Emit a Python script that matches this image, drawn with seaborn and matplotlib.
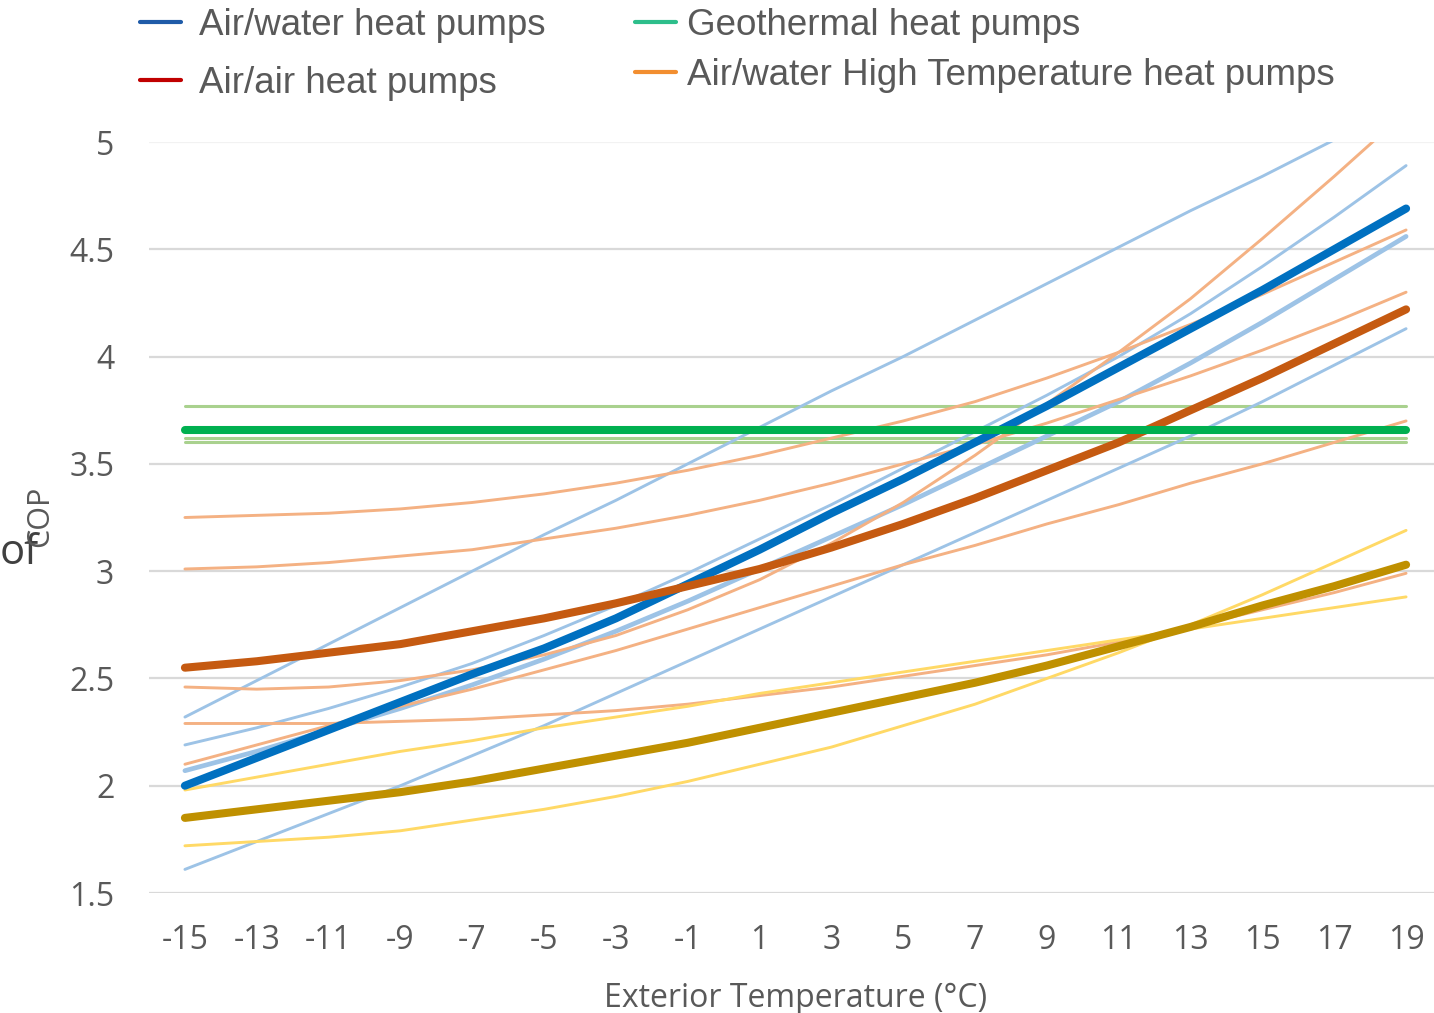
import seaborn as sns
import matplotlib.pyplot as plt
from matplotlib.lines import Line2D

temps = [-15, -13, -11, -9, -7, -5, -3, -1, 1, 3, 5, 7, 9, 11, 13, 15, 17, 19]

# thin individual curves
blue_1 = [2.32, 2.49, 2.66, 2.83, 3.00, 3.17, 3.33, 3.50, 3.67, 3.84, 4.00, 4.17, 4.34, 4.51, 4.68, 4.84, 5.01, 5.18]
blue_2 = [2.19, 2.27, 2.36, 2.46, 2.57, 2.70, 2.84, 2.99, 3.15, 3.31, 3.48, 3.65, 3.82, 4.00, 4.20, 4.42, 4.65, 4.89]
blue_3 = [2.07, 2.16, 2.26, 2.36, 2.47, 2.59, 2.72, 2.86, 3.01, 3.16, 3.31, 3.47, 3.63, 3.79, 3.97, 4.16, 4.36, 4.56]
blue_4 = [1.61, 1.74, 1.87, 2.00, 2.14, 2.28, 2.43, 2.58, 2.73, 2.88, 3.03, 3.18, 3.33, 3.48, 3.63, 3.79, 3.96, 4.13]

orange_1 = [3.25, 3.26, 3.27, 3.29, 3.32, 3.36, 3.41, 3.47, 3.54, 3.62, 3.70, 3.79, 3.90, 4.02, 4.15, 4.29, 4.44, 4.59]
orange_2 = [3.01, 3.02, 3.04, 3.07, 3.10, 3.15, 3.20, 3.26, 3.33, 3.41, 3.50, 3.59, 3.69, 3.80, 3.91, 4.03, 4.16, 4.30]
orange_3 = [2.46, 2.45, 2.46, 2.49, 2.54, 2.61, 2.70, 2.82, 2.96, 3.13, 3.32, 3.54, 3.78, 4.02, 4.27, 4.55, 4.84, 5.14]
orange_4 = [2.10, 2.19, 2.28, 2.37, 2.45, 2.54, 2.63, 2.73, 2.83, 2.93, 3.03, 3.12, 3.22, 3.31, 3.41, 3.50, 3.60, 3.70]
orange_5 = [2.29, 2.29, 2.29, 2.30, 2.31, 2.33, 2.35, 2.38, 2.42, 2.46, 2.51, 2.56, 2.61, 2.67, 2.74, 2.82, 2.90, 2.99]

yellow_1 = [1.72, 1.74, 1.76, 1.79, 1.84, 1.89, 1.95, 2.02, 2.10, 2.18, 2.28, 2.38, 2.50, 2.62, 2.75, 2.89, 3.04, 3.19]
yellow_2 = [1.98, 2.04, 2.10, 2.16, 2.21, 2.27, 2.32, 2.37, 2.43, 2.48, 2.53, 2.58, 2.63, 2.68, 2.73, 2.78, 2.83, 2.88]

green_1 = [3.77] * 18
green_2 = [3.62] * 18
green_3 = [3.60] * 18

# average curves (thick)
blue_avg = [2.00, 2.13, 2.26, 2.39, 2.52, 2.64, 2.78, 2.94, 3.10, 3.27, 3.43, 3.60, 3.77, 3.95, 4.13, 4.31, 4.50, 4.69]
orange_avg = [2.55, 2.58, 2.62, 2.66, 2.72, 2.78, 2.85, 2.93, 3.01, 3.11, 3.22, 3.34, 3.47, 3.60, 3.75, 3.90, 4.06, 4.22]
gold_avg = [1.85, 1.89, 1.93, 1.97, 2.02, 2.08, 2.14, 2.20, 2.27, 2.34, 2.41, 2.48, 2.56, 2.65, 2.74, 2.84, 2.93, 3.03]
green_avg = [3.66] * 18

sns.set_style("white")
plt.rcParams['font.family'] = ['Open Sans', 'DejaVu Sans']

fig = plt.figure(figsize=(14.34, 10.13), dpi=100)
ax = fig.add_axes([149 / 1434, 120 / 1013, 1293 / 1434, 751 / 1013])

thin = [
    (green_1, '#A9D18E', 2.2), (green_2, '#A9D18E', 2.2), (green_3, '#A9D18E', 2.2),
    (blue_1, '#9DC3E6', 2.1), (blue_2, '#9DC3E6', 2.1), (blue_4, '#9DC3E6', 2.1),
    (blue_3, '#9DC3E6', 3.4),
    (orange_1, '#F4B183', 2.1), (orange_2, '#F4B183', 2.1), (orange_3, '#F4B183', 2.1),
    (orange_4, '#F4B183', 2.1), (orange_5, '#F4B183', 2.1),
    (yellow_1, '#FFD966', 2.1), (yellow_2, '#FFD966', 2.1),
]
thick = [
    (blue_avg, '#0070C0', 5.8), (orange_avg, '#C55A11', 5.8),
    (gold_avg, '#BF9000', 5.8), (green_avg, '#00B050', 5.8),
]
for vals, col, lw in thin + thick:
    sns.lineplot(x=temps, y=vals, ax=ax, color=col, linewidth=lw,
                 solid_capstyle='round', legend=False)

ax.set_xlim(-16, 20)
ax.set_ylim(1.5, 5)
ax.set_xticks(temps)
ax.set_xticklabels([str(t) for t in temps])
ax.set_yticks([1.5, 2, 2.5, 3, 3.5, 4, 4.5, 5])
ax.set_yticklabels(['1.5', '2', '2.5', '3', '3.5', '4', '4.5', '5'])
ax.tick_params(axis='both', length=0, labelsize=23, colors='#595959')
ax.tick_params(axis='y', pad=25)
ax.tick_params(axis='x', pad=22)
ax.yaxis.grid(True, color='#D9D9D9', linewidth=1.6)
ax.get_ygridlines()[-1].set_color('#F2F2F2')
ax.set_axisbelow(True)
for s in ax.spines.values():
    s.set_visible(False)
ax.set_xlabel('Exterior Temperature (°C)', fontsize=23, color='#595959')
ax.xaxis.set_label_coords((796 - 149) / 1293, -0.118)

fig.text(0.0, 1 - 553 / 1013, 'of', fontsize=30, color='#404040', ha='left', va='center')
fig.text(40 / 1434, 1 - 516 / 1013, 'COP', fontsize=22, color='#595959',
         rotation=90, ha='center', va='center')

lf = ['Liberation Sans', 'DejaVu Sans']
h1 = [Line2D([], [], color='#1F5BA8', lw=3), Line2D([], [], color='#C00000', lw=3)]
h2 = [Line2D([], [], color='#2DBE8B', lw=3), Line2D([], [], color='#F28E30', lw=3)]
leg1 = fig.legend(h1, ['Air/water heat pumps', 'Air/air heat pumps'],
                  loc='upper left', bbox_to_anchor=(107 / 1434, 1.025), frameon=False,
                  prop={'family': lf, 'size': 26.5}, labelcolor='#595959',
                  handlelength=1.1, handletextpad=0.5, labelspacing=0.63)
leg2 = fig.legend(h2, ['Geothermal heat pumps', 'Air/water High Temperature heat pumps'],
                  loc='upper left', bbox_to_anchor=(602 / 1434, 1.025), frameon=False,
                  prop={'family': lf, 'size': 26.5}, labelcolor='#595959',
                  handlelength=1.1, handletextpad=0.3, labelspacing=0.41)

fig.savefig('out.png', dpi=100)
